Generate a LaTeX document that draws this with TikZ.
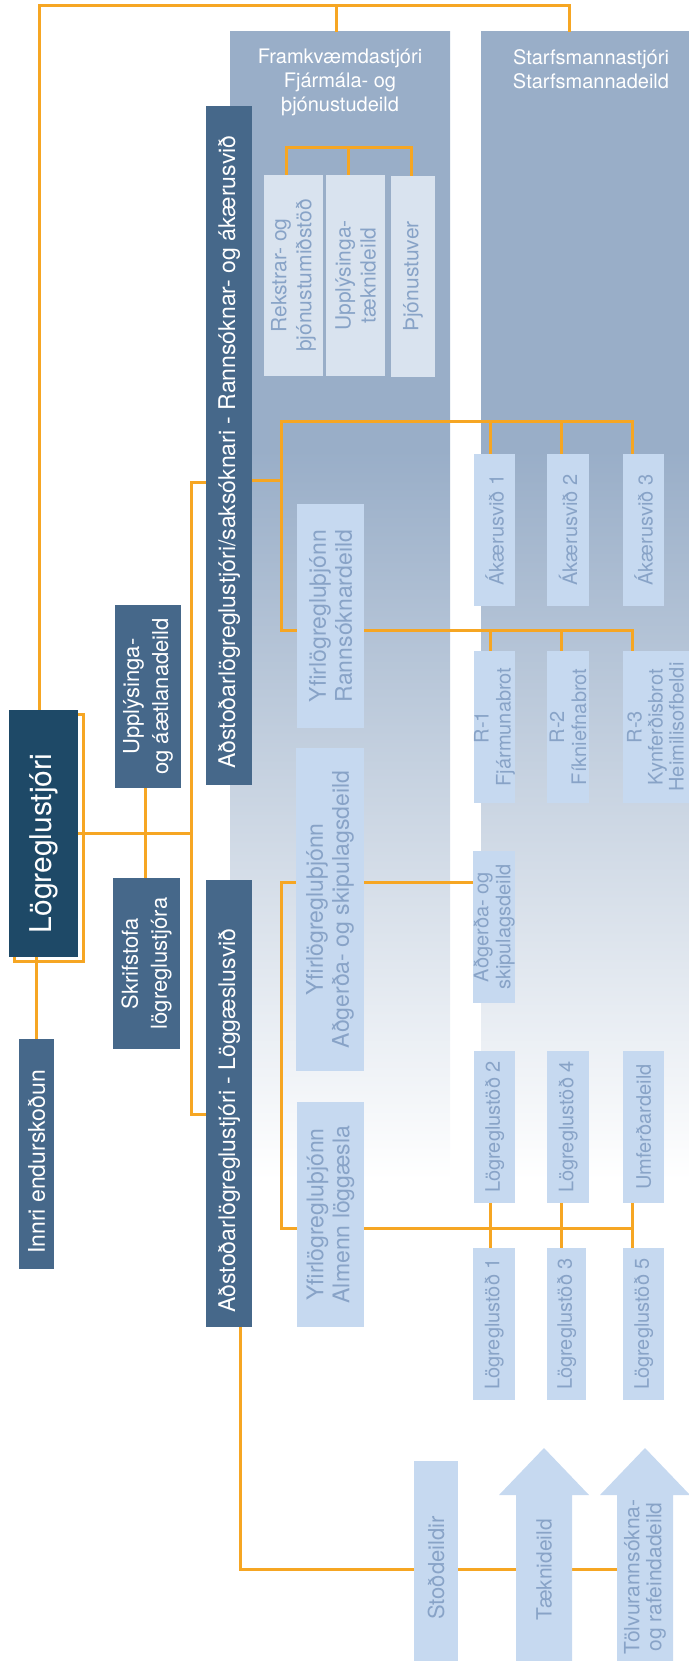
\documentclass[tikz,border=0pt]{standalone}
\usepackage{fontspec}
\setmainfont{TeX Gyre Heros}
\usetikzlibrary{calc}
\definecolor{orng}{HTML}{F6A623}
\definecolor{panelc}{HTML}{99AEC8}
\definecolor{darkc}{HTML}{46688A}
\definecolor{navyc}{HTML}{1E4967}
\definecolor{lightc}{HTML}{C6D9F0}
\definecolor{paleboxc}{HTML}{D9E3EF}
\definecolor{ltxtc}{HTML}{88A3C7}
\pgfdeclareverticalshading{panelfade}{100bp}{color(0bp)=(white); color(25bp)=(white); color(56.8bp)=(panelc); color(75bp)=(panelc); color(100bp)=(panelc)}
\pgfdeclarelayer{bg}
\pgfdeclarelayer{lines}
\pgfsetlayers{bg,lines,main}
\newcommand{\mkbox}[6]{\node[boxbase,#2,minimum width={#5-#3},minimum height={#6-#4}] (#1) at (#3,#4) {};}
\begin{document}
\begin{tikzpicture}[x=1pt,y=-1pt,
  oline/.style={draw=orng, line width=3pt},
  boxbase/.style={inner sep=0pt, outer sep=0pt, anchor=north west, draw=none},
  panelfill/.style={shade, shading=panelfade},
  dboxf/.style={fill=darkc},
  lboxf/.style={fill=lightc},
  pboxf/.style={fill=paleboxc},
  dtxt/.style={rotate=90, text=white, font=\fontsize{23}{28}\selectfont, align=center, inner sep=0pt},
  ltxt/.style={rotate=90, text=ltxtc, font=\fontsize{20}{22}\selectfont, align=center, inner sep=0pt},
  ytxt/.style={rotate=90, text=ltxtc, font=\fontsize{23}{26}\selectfont, align=center, inner sep=0pt},
  ptxt/.style={rotate=90, text=ltxtc, font=\fontsize{21}{25}\selectfont, align=center, inner sep=0pt},
  htxt/.style={text=white, font=\fontsize{20}{24}\selectfont, align=center, inner sep=0pt, anchor=north}]
\useasboundingbox (0,0) rectangle (688,1661);
% panels
\begin{pgfonlayer}{bg}
\mkbox{fpan}{panelfill}{230}{32}{450}{1180}
\mkbox{span}{panelfill}{481}{32}{701}{1180}
\end{pgfonlayer}
\node[htxt] (fpanT) at (340,49) {Framkvæmdastjóri\\Fjármála- og\\þjónustudeild};
\node[htxt] (spanT) at (591,49) {Starfsmannastjóri\\Starfsmannadeild};
% boxes
\mkbox{lr}{fill=navyc}{9}{710}{78}{957}
\mkbox{innri}{dboxf}{19}{1039}{54}{1269}
\mkbox{upp}{dboxf}{115}{605}{181}{788}
\mkbox{skr}{dboxf}{113}{878}{180}{1049}
\mkbox{adR}{dboxf}{206}{106}{252}{785}
\mkbox{adL}{dboxf}{206}{880}{252}{1327}
\mkbox{rek}{pboxf}{264}{175}{323}{376}
\mkbox{upt}{pboxf}{326}{175}{385}{376}
\mkbox{thj}{pboxf}{391}{176}{435}{377}
\mkbox{yR}{lboxf}{297}{504}{364}{728}
\mkbox{yA}{lboxf}{296}{748}{364}{1071}
\mkbox{yL}{lboxf}{297}{1102}{364}{1327}
\mkbox{ak1}{lboxf}{474}{454}{515}{606}
\mkbox{ak2}{lboxf}{547}{454}{589}{606}
\mkbox{ak3}{lboxf}{623}{454}{664}{606}
\mkbox{r1}{lboxf}{474}{651}{515}{803}
\mkbox{r2}{lboxf}{547}{651}{589}{803}
\mkbox{r3}{lboxf}{623}{651}{700}{803}
\mkbox{agd}{lboxf}{473}{851}{515}{1003}
\mkbox{ls2}{lboxf}{474}{1051}{515}{1203}
\mkbox{ls4}{lboxf}{547}{1051}{589}{1203}
\mkbox{umf}{lboxf}{623}{1051}{664}{1203}
\mkbox{ls1}{lboxf}{473}{1248}{515}{1400}
\mkbox{ls3}{lboxf}{547}{1248}{586}{1400}
\mkbox{ls5}{lboxf}{623}{1248}{664}{1400}
\mkbox{stod}{lboxf}{414}{1461}{458}{1670}
% arrows
\fill[lightc] (516,1670) -- (516,1495) -- (499,1495) -- (544,1448) -- (589,1495) -- (572,1495) -- (572,1670) -- cycle;
\fill[lightc] (617,1670) -- (617,1495) -- (600,1495) -- (645,1448) -- (690,1495) -- (673,1495) -- (673,1670) -- cycle;
\coordinate (tolvuA) at (617,1569);
% texts
\node[dtxt, font=\fontsize{30}{34}\selectfont] (lrT) at ($(lr.center)+(0,10)$) {Lögreglustjóri};
\node[dtxt] (innriT) at ($(innri.center)+(0,8)$) {Innri endurskoðun};
\node[dtxt, font=\fontsize{22}{29}\selectfont] (uppT) at (upp.center) {Upplýsinga-\\og áætlanadeild};
\node[dtxt, font=\fontsize{22}{29}\selectfont] (skrT) at (skr.center) {Skrifstofa\\lögreglustjóra};
\node[dtxt] (adRT) at ($(adR.center)+(0,6.5)$) {Aðstoðarlögreglustjóri/saksóknari - Rannsóknar- og ákærusvið};
\node[dtxt] (adLT) at ($(adL.center)+(0,17)$) {Aðstoðarlögreglustjóri - Löggæslusvið};
\node[ptxt] (rekT) at (rek.center) {Rekstrar- og\\þjónustumiðstöð};
\node[ptxt] (uptT) at (upt.center) {Upplýsinga-\\tæknideild};
\node[ptxt] (thjT) at (thj.center) {Þjónustuver};
\node[ytxt] (yRT) at (yR.center) {Yfirlögregluþjónn\\Rannsóknardeild};
\node[ytxt] (yAT) at (yA.center) {Yfirlögregluþjónn\\Aðgerða- og skipulagsdeild};
\node[ytxt] (yLT) at (yL.center) {Yfirlögregluþjónn\\Almenn löggæsla};
\node[ltxt] (ak1T) at (ak1.center) {Ákærusvið 1};
\node[ltxt] (ak2T) at (ak2.center) {Ákærusvið 2};
\node[ltxt] (ak3T) at (ak3.center) {Ákærusvið 3};
\node[ltxt] (r1T) at (r1.center) {R-1\\Fjármunabrot};
\node[ltxt] (r2T) at (r2.center) {R-2\\Fíkniefnabrot};
\node[ltxt, font=\fontsize{20}{21}\selectfont] (r3T) at ($(r3.center)+(-6,0)$) {R-3\\Kynferðisbrot\\Heimilisofbeldi};
\node[ltxt] (agdT) at (agd.center) {Aðgerða- og\\skipulagsdeild};
\node[ltxt] (ls2T) at (ls2.center) {Lögreglustöð 2};
\node[ltxt] (ls4T) at (ls4.center) {Lögreglustöð 4};
\node[ltxt] (umfT) at (umf.center) {Umferðardeild};
\node[ltxt] (ls1T) at (ls1.center) {Lögreglustöð 1};
\node[ltxt] (ls3T) at (ls3.center) {Lögreglustöð 3};
\node[ltxt] (ls5T) at (ls5.center) {Lögreglustöð 5};
\node[ltxt, font=\fontsize{22}{24}\selectfont] (stodT) at (stod.center |- 0,1568) {Stoðdeildir};
\node[ltxt, font=\fontsize{21}{22}\selectfont] (taekT) at (544,1570) {Tæknideild};
\node[ltxt, font=\fontsize{21}{22}\selectfont] (tolvuT) at (645,1577) {Tölvurannsókna-\\og rafeindadeild};
% connectors
\begin{pgfonlayer}{lines}
\draw[orng, line width=3pt] ([shift={(5,4)}]lr.north west) rectangle ([shift={(5,4)}]lr.south east);
\coordinate (tl) at ([xshift=-4.5pt]lr.north);
\coordinate (tr) at (569,6);
\draw[oline] (tl) |- (tr) -- (tr |- span.north);
\draw[oline] ([xshift=-4pt]fpan.north) -- ++(0,-28);
\coordinate (vb1) at (191,482);
\coordinate (vb2) at (191,1114);
\draw[oline] (adR.west |- vb1) -- (vb1) -- (vb2) -- (adL.west |- vb2);
\draw[oline] (lr.east) -- (lr.east -| vb1);
\coordinate (uppS) at ([xshift=-3pt]upp.south);
\draw[oline] (uppS) -- (uppS |- skr.north);
\draw[oline] (innri.north) -- (innri.north |- lr.south);
\coordinate (rekN) at ([xshift=-7.5pt]rek.north);
\coordinate (uptN) at ([xshift=-7.5pt]upt.north);
\coordinate (thjN) at ([xshift=-2pt]thj.north);
\draw[oline] (rekN) -- ++(0,-27) -| (thjN);
\draw[oline] (uptN) -- ++(0,-27);
\coordinate (rv1) at (281,421);
\coordinate (rv2) at (281,630);
\coordinate (rj) at (281,480);
\draw[oline] (rj -| adR.east) -- (rj);
\coordinate (a1) at ([xshift=-4.5pt]ak1.north);
\coordinate (a2) at ([xshift=-7pt]ak2.north);
\coordinate (a3) at ([xshift=-11.5pt]ak3.north);
\coordinate (b1) at ([xshift=-4.5pt]r1.north);
\coordinate (b2) at ([xshift=-7pt]r2.north);
\coordinate (b3) at ([xshift=-29.5pt]r3.north);
\draw[oline] (a3) |- (rv1) -- (rv2) -| (b3);
\draw[oline] (a1) -- (a1 |- rv1);
\draw[oline] (a2) -- (a2 |- rv1);
\draw[oline] (b1) -- (b1 |- rv2);
\draw[oline] (b2) -- (b2 |- rv2);
\coordinate (lv1) at (281,882);
\coordinate (lv2) at (281,1228);
\coordinate (c1) at ([xshift=-4pt]ls1.north);
\coordinate (c2) at ([xshift=-4.5pt]ls2.south);
\coordinate (c3) at ([xshift=-5.5pt]ls3.north);
\coordinate (c4) at ([xshift=-7pt]ls4.south);
\coordinate (c5) at ([xshift=-11.5pt]umf.south);
\coordinate (c6) at ([xshift=-11.5pt]ls5.north);
\draw[oline] (lv1 -| agd.west) -- (lv1) -- (lv2) -- (lv2 -| c5);
\draw[oline] (c2) -- (c1);
\draw[oline] (c4) -- (c3);
\draw[oline] (c5) -- (c6);
\coordinate (bb) at ([xshift=-12pt]adL.south east);
\draw[oline] (bb) |- (tolvuA);
\end{pgfonlayer}
\end{tikzpicture}
\end{document}
